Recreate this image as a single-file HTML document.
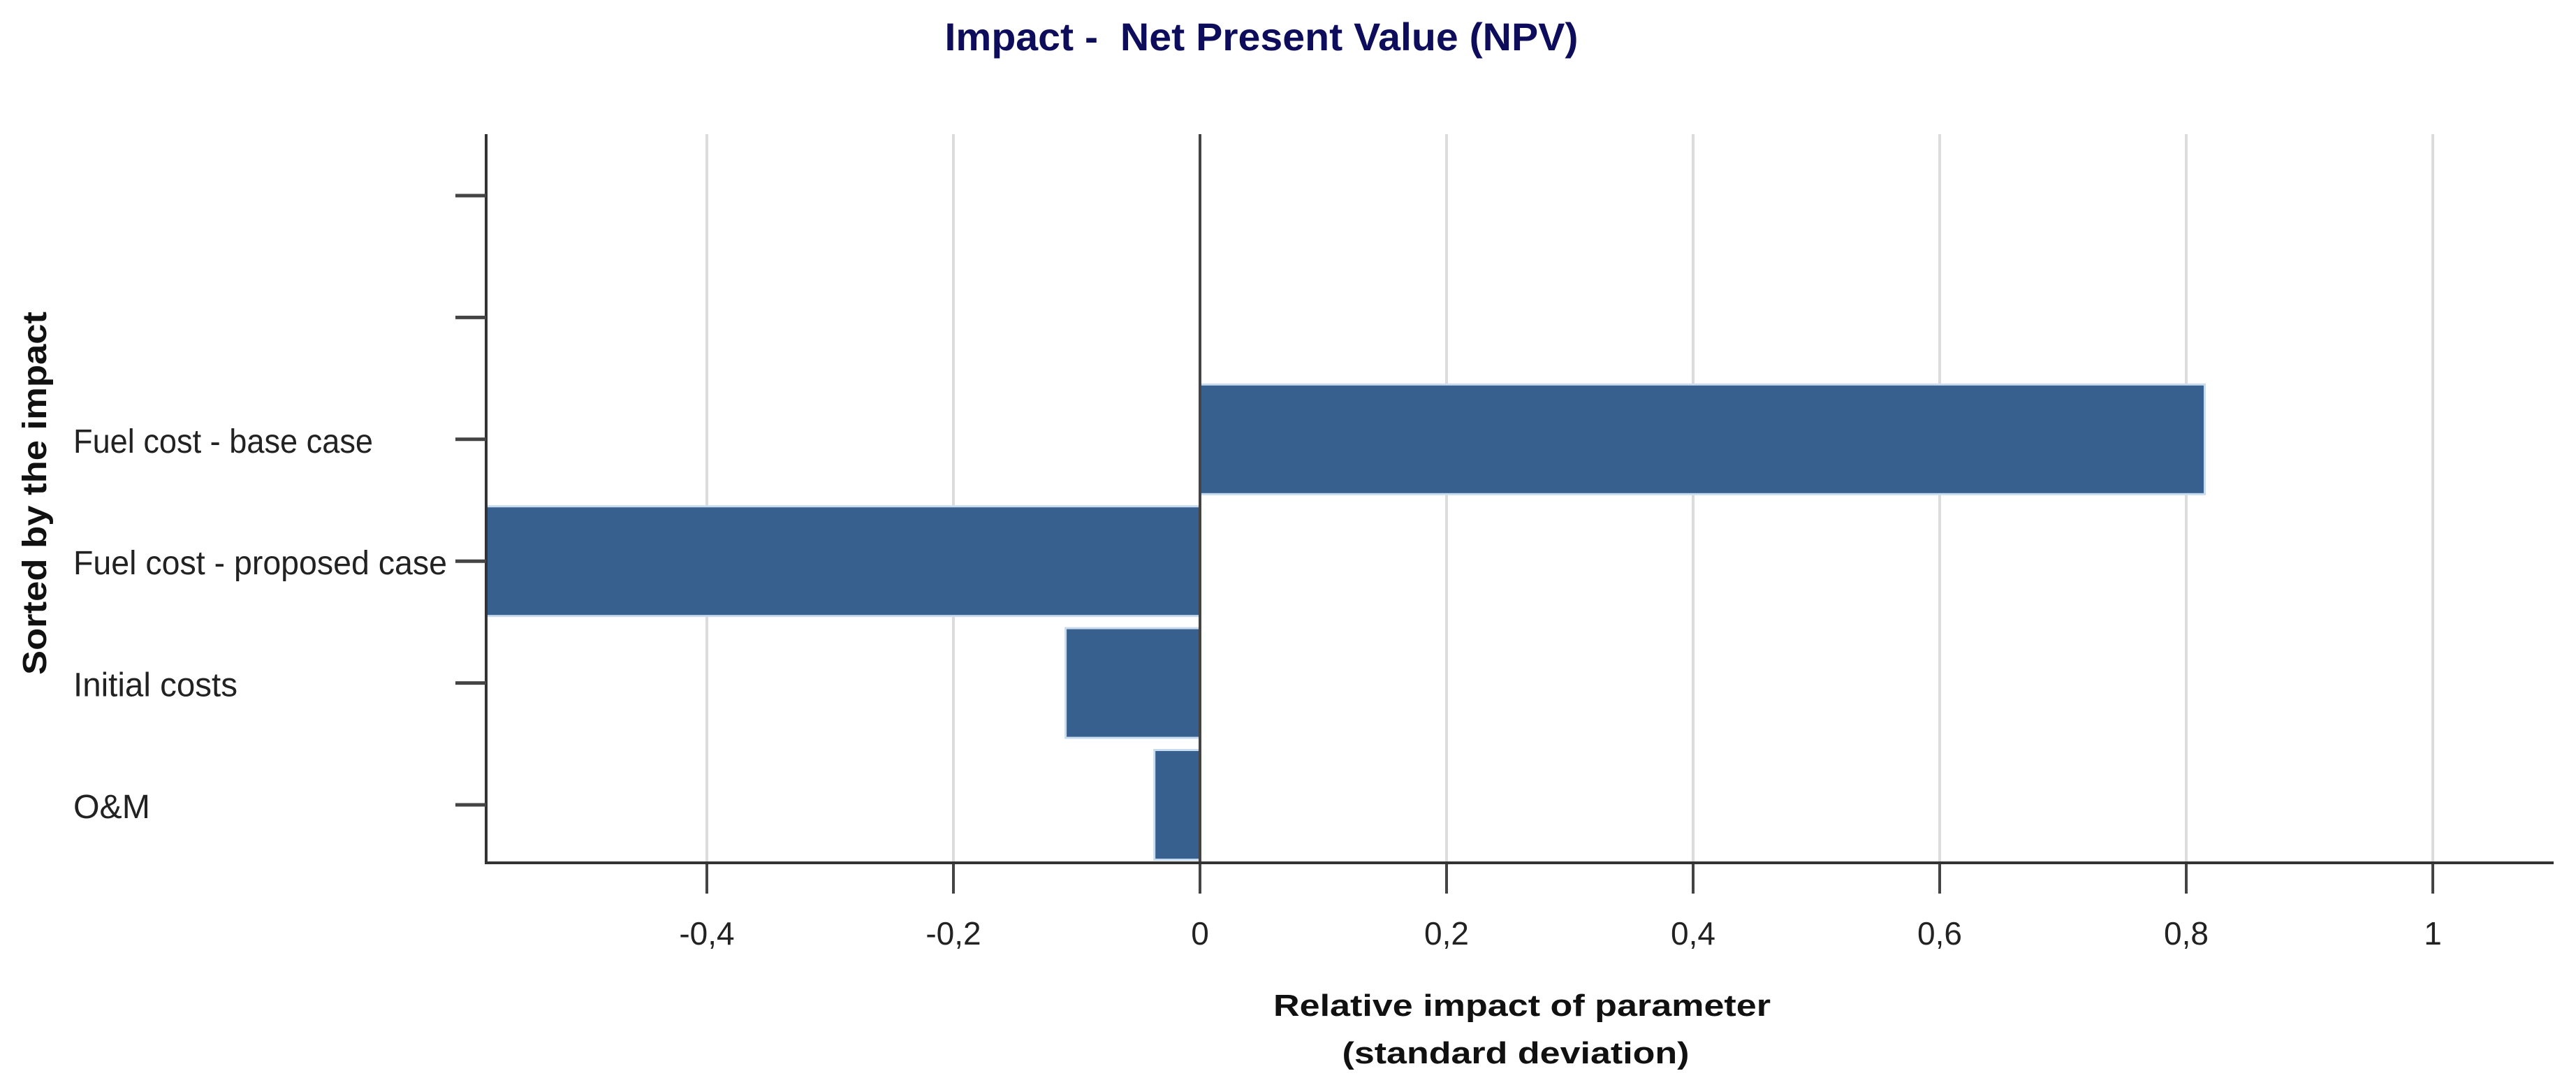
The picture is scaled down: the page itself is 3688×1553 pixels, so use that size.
<!DOCTYPE html>
<html><head><meta charset="utf-8"><style>
html,body{margin:0;padding:0;background:#fff;}
svg{display:block;font-family:"Liberation Sans",sans-serif;}
</style></head><body>
<svg id="chart" width="3688" height="1553" viewBox="0 0 3688 1553" xmlns="http://www.w3.org/2000/svg">
<text x="1806" y="72" text-anchor="middle" font-size="56" font-weight="bold" fill="#0d0d5c" textLength="907" lengthAdjust="spacingAndGlyphs">Impact - &#160;Net Present Value (NPV)</text>
<text transform="translate(66,706) rotate(-90)" text-anchor="middle" font-size="48" font-weight="bold" fill="#111" textLength="520" lengthAdjust="spacingAndGlyphs">Sorted by the impact</text>
<text x="2179" y="1454" text-anchor="middle" font-size="44" font-weight="bold" fill="#111" textLength="712" lengthAdjust="spacingAndGlyphs">Relative impact of parameter</text>
<text x="2170" y="1522" text-anchor="middle" font-size="44" font-weight="bold" fill="#111" textLength="497" lengthAdjust="spacingAndGlyphs">(standard deviation)</text>
<g id="grid"></g><g id="bars"></g><g id="axes"></g>
</svg>
<script>
const categories = ["", "", "Fuel cost - base case", "Fuel cost - proposed case", "Initial costs", "O&M"];
const values = [null, null, 0.815, -0.62, -0.109, -0.037];
const xTicks = [-0.4, -0.2, 0, 0.2, 0.4, 0.6, 0.8, 1];
const xTickLabels = ["-0,4", "-0,2", "0", "0,2", "0,4", "0,6", "0,8", "1"];
const labelWidths = [0, 0, 429, 535, 235, 110];

const NS = "http://www.w3.org/2000/svg";
const X0 = 1718, UNIT = 1765, XMIN = -0.579, XRIGHT = 3656;
const PTOP = 192, PBOT = 1235, AXL = 696;
const BAND = 174.4, FIRST = 280;
function xs(v){ return X0 + v*UNIT; }
function yc(i){ return FIRST + i*BAND; }
function mk(tag, attrs, parent){ const e=document.createElementNS(NS,tag); for(const k in attrs) e.setAttribute(k,attrs[k]); parent.appendChild(e); return e; }
const grid=document.getElementById('grid'), bars=document.getElementById('bars'), axes=document.getElementById('axes');

xTicks.forEach((t,i)=>{
  const x=xs(t);
  if(t!==0){ const g=mk('line',{x1:x,x2:x,y1:PTOP,y2:PBOT,stroke:'#dcdcdc','stroke-width':4},grid);
    
     }
  const tk=mk('line',{x1:x,x2:x,y1:PBOT,y2:PBOT+44,stroke:'#444','stroke-width':4},axes);
  
  
  const lb=mk('text',{x:x,y:1352,'text-anchor':'middle','font-size':46,fill:'#222'},axes);
  lb.textContent=xTickLabels[i];
  
  
});

values.forEach((v,i)=>{
  if(v===null) return;
  const h=157, top=yc(i)-h/2;
  let a=Math.max(Math.min(v,0),XMIN), b=Math.max(v,0);
  const r=mk('rect',{x:xs(a),y:top,width:xs(b)-xs(a),height:Math.min(h,PBOT-top),fill:'#37608f',stroke:'#c9dcef','stroke-width':3},bars);
  
  
});

const zl=mk('line',{x1:X0,x2:X0,y1:PTOP,y2:PBOT,stroke:'#444','stroke-width':4},axes);


const ya=mk('line',{x1:AXL,x2:AXL,y1:PTOP,y2:PBOT+2,stroke:'#333','stroke-width':4},axes);


const xa=mk('line',{x1:AXL,x2:XRIGHT,y1:PBOT,y2:PBOT,stroke:'#333','stroke-width':4},axes);



categories.forEach((c,i)=>{
  const y=yc(i);
  const tk=mk('line',{x1:652,x2:AXL,y1:y,y2:y,stroke:'#444','stroke-width':5},axes);
  
  
  if(c){
    const t=mk('text',{x:105,y:y+19,'font-size':48,fill:'#222',textLength:labelWidths[i],lengthAdjust:'spacingAndGlyphs'},axes);
    t.textContent=c;
    
    
  }
});
</script>
</body></html>
